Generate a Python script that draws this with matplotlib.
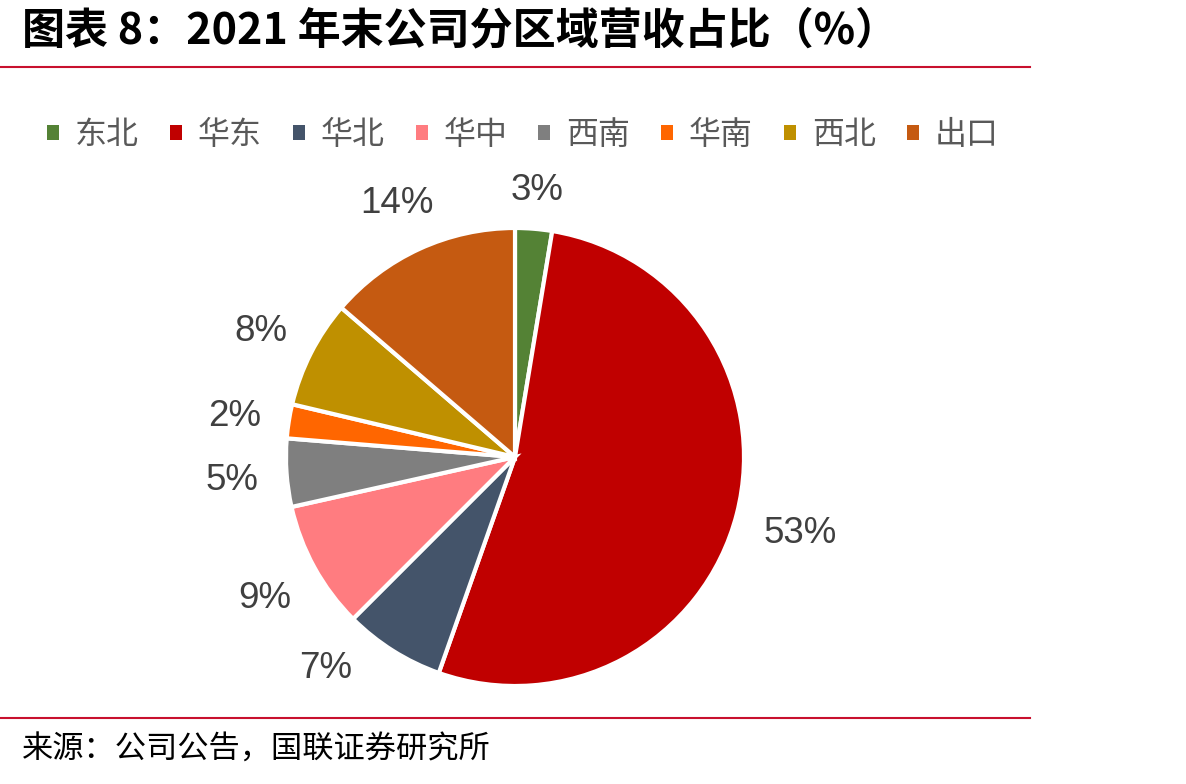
import matplotlib
matplotlib.use("Agg")
import numpy as np
import matplotlib.pyplot as plt
from matplotlib.patches import Patch
from matplotlib.lines import Line2D

categories = ["东北", "华东", "华北", "华中", "西南", "华南", "西北", "出口"]
values = [2.6, 52.8, 7.1, 9.0, 4.8, 2.4, 7.6, 13.7]
colors = ["#548235", "#C00000", "#44546A", "#FF7C80", "#7F7F7F", "#FF6600", "#BF9000", "#C55A11"]
title = "图表 8：2021 年末公司分区域营收占比（%）"
source = "来源：公司公告，国联证券研究所"

plt.rcParams['font.family'] = ['Noto Sans CJK SC', 'DejaVu Sans']

W, H = 1186, 784
fig = plt.figure(figsize=(W / 100, H / 100), dpi=100)

label_fs = 26.5
cx, cy, r = 515, 457, 229
ax = fig.add_axes([(cx - r) / W, (H - cy - r) / H, 2 * r / W, 2 * r / H])
wedges, texts, autotexts = ax.pie(
    values, colors=colors, startangle=90, counterclock=False,
    autopct=lambda p: f"{p:.0f}%", pctdistance=1.24,
    wedgeprops=dict(edgecolor="white", linewidth=3),
    textprops=dict(family="Liberation Sans", fontsize=label_fs, color="#404040"))
ax.set_xlim(-1, 1)
ax.set_ylim(-1, 1)
ax.set_aspect("equal")
ax.axis("off")

# "outside end" label placement: ink box a fixed gap beyond the rim
fig.canvas.draw()
renderer = fig.canvas.get_renderer()
gap_px = 27
cap_px = 0.716 * label_fs * 100 / 72
bottom_limit_px = 678  # plot-area bottom (pixels from top)
for w, t in zip(wedges, autotexts):
    ang = np.deg2rad((w.theta1 + w.theta2) / 2)
    ux, uy = np.cos(ang), np.sin(ang)
    bw = t.get_window_extent(renderer).width
    d = r + gap_px + abs(ux) * bw / 2 + abs(uy) * cap_px / 2
    x_px, y_px = d * ux, d * uy  # relative to centre, y up
    if (cy - y_px) + cap_px / 2 > bottom_limit_px:
        y_px = cy - (bottom_limit_px - cap_px / 2)
        x_px = -np.sqrt(max(d ** 2 - y_px ** 2, 0)) if ux < 0 else np.sqrt(max(d ** 2 - y_px ** 2, 0))
    t.set_position((x_px / r, (y_px - cap_px / 2) / r))
    t.set_ha("center")
    t.set_va("baseline")

# title
fig.text(22 / W, 1 - 30 / H, title, fontsize=31, fontweight="bold", color="black",
         ha="left", va="center")
# red rules
fig.add_artist(Line2D([0, 1030 / W], [1 - 67 / H, 1 - 67 / H], color="#C8102E", lw=1.5))
fig.add_artist(Line2D([0, 1030 / W], [1 - 718 / H, 1 - 718 / H], color="#C8102E", lw=1.5))
# source
fig.text(22 / W, 1 - 750 / H, source, fontsize=22.5, color="black", ha="left", va="center")

# legend
handles = [Patch(facecolor=c, edgecolor="none") for c in colors]
leg = fig.legend(handles, categories, loc="center", bbox_to_anchor=(523 / W, 1 - 135 / H),
                 ncol=8, frameon=False, fontsize=23, handlelength=0.37, handleheight=0.37,
                 handletextpad=0.5, columnspacing=0.97, labelcolor="#595959")

fig.savefig("out.png", dpi=100)
